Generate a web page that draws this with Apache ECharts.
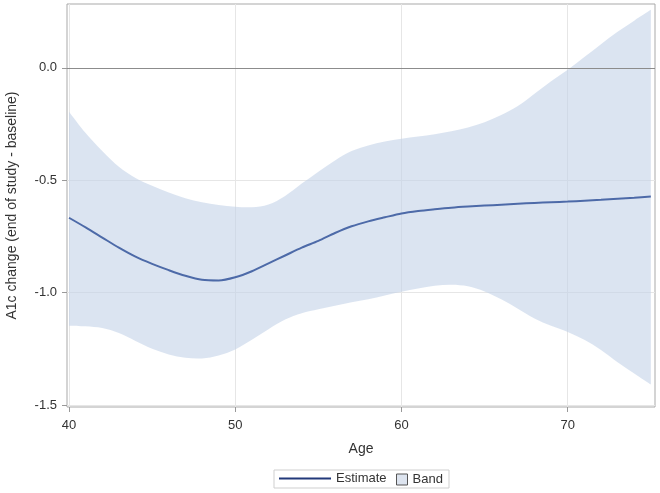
<!DOCTYPE html>
<html>
<head>
<meta charset="utf-8">
<script src="https://cdn.jsdelivr.net/npm/echarts@6/dist/echarts.min.js"></script>
<style>
  html, body { margin: 0; padding: 0; background: #fff; }
  #main { width: 660px; height: 493px; }
</style>
</head>
<body>
<div id="main"></div>
<script>
// age values (x)
var ages = [40,41,42,43,44,45,46,47,48,49,50,51,52,53,54,55,56,57,58,59,60,
  61,62,63,64,65,66,67,68,69,70,71,72,73,74,75];
// fitted estimate
var estimate = [-0.667,-0.71,-0.755,-0.80,-0.84,-0.872,-0.90,-0.925,-0.943,-0.946,
  -0.932,-0.905,-0.87,-0.835,-0.80,-0.77,-0.735,-0.705,-0.683,-0.665,
  -0.648,-0.637,-0.629,-0.622,-0.617,-0.613,-0.609,-0.605,-0.601,-0.598,
  -0.595,-0.591,-0.587,-0.582,-0.578,-0.573];
// band limits
var upper = [-0.195,-0.29,-0.37,-0.44,-0.49,-0.525,-0.555,-0.58,-0.598,-0.61,
  -0.618,-0.62,-0.608,-0.57,-0.515,-0.462,-0.412,-0.37,-0.345,-0.328,
  -0.316,-0.306,-0.295,-0.282,-0.265,-0.242,-0.21,-0.17,-0.115,-0.06,
  -0.009,0.048,0.105,0.16,0.21,0.258];
var lower = [-1.147,-1.15,-1.158,-1.18,-1.215,-1.25,-1.275,-1.29,-1.293,-1.28,
  -1.253,-1.21,-1.163,-1.12,-1.092,-1.074,-1.058,-1.043,-1.03,-1.013,
  -0.996,-0.982,-0.970,-0.965,-0.972,-0.995,-1.03,-1.072,-1.115,-1.148,
  -1.175,-1.21,-1.255,-1.31,-1.36,-1.409];
// tick labels
var xTicks = [40, 50, 60, 70];
var yTicks = [-1.5, -1.0, -0.5, 0.0];

var chart = echarts.init(document.getElementById('main'));

var bandData = ages.map(function (a, i) { return [a, lower[i], upper[i]]; });
var estData = ages.map(function (a, i) { return [a, estimate[i]]; });

var tick = { fontFamily: 'Liberation Sans, Arial, sans-serif', color: '#333', fontSize: 13 };
var title = { fontFamily: 'Liberation Sans, Arial, sans-serif', color: '#333', fontSize: 14 };

// catmull-rom through pixel points, as svg path commands
function curve(p, first) {
  var s = first ? 'M' + p[0][0] + ',' + p[0][1] : 'L' + p[0][0] + ',' + p[0][1];
  for (var i = 0; i < p.length - 1; i++) {
    var a = p[Math.max(i - 1, 0)], b = p[i], c = p[i + 1], d = p[Math.min(i + 2, p.length - 1)];
    var c1x = b[0] + (c[0] - a[0]) / 6, c1y = b[1] + (c[1] - a[1]) / 6;
    var c2x = c[0] - (d[0] - b[0]) / 6, c2y = c[1] - (d[1] - b[1]) / 6;
    s += 'C' + c1x + ',' + c1y + ',' + c2x + ',' + c2y + ',' + c[0] + ',' + c[1];
  }
  return s;
}

// whole band as one closed path: upper edge forward, lower edge back
function renderBand(params, api) {
  if (params.dataIndex !== 0) return;
  var top = [], bot = [];
  for (var i = 0; i < bandData.length; i++) {
    top.push(api.coord([bandData[i][0], bandData[i][2]]));
    bot.push(api.coord([bandData[i][0], bandData[i][1]]));
  }
  bot.reverse();
  return {
    type: 'path',
    shape: { pathData: curve(top, true) + curve(bot, false) + 'Z' },
    style: { fill: 'rgba(195,210,232,0.6)', stroke: 'none' },
    silent: true
  };
}

chart.setOption({
  animation: false,
  textStyle: { fontFamily: 'Liberation Sans, Arial, sans-serif' },
  grid: {
    left: 67, right: 5, top: 4, bottom: 86,
    outerBoundsMode: 'none',
    show: true, borderColor: '#a9a9a9', borderWidth: 1
  },
  xAxis: {
    type: 'value',
    min: 39.88, max: 75.25,
    name: 'Age',
    nameLocation: 'middle',
    nameGap: 35,
    nameTextStyle: title,
    axisLine: { show: false, onZero: false },
    axisTick: { show: true, length: 5, customValues: xTicks, lineStyle: { color: '#999' } },
    axisLabel: { customValues: xTicks, margin: 12, color: '#333', fontSize: 13 },
    splitLine: { show: true, lineStyle: { color: '#e6e6e6' } }
  },
  yAxis: {
    type: 'value',
    min: -1.509, max: 0.284,
    name: 'A1c change (end of study - baseline)',
    nameLocation: 'middle',
    nameGap: 48,
    nameTextStyle: title,
    axisLine: { show: false, onZero: false },
    axisTick: { show: true, length: 5, customValues: yTicks, lineStyle: { color: '#999' } },
    axisLabel: {
      customValues: yTicks, margin: 10, color: '#333', fontSize: 13,
      formatter: function (v) { return v.toFixed(1); }
    },
    splitLine: { show: true, lineStyle: { color: '#e6e6e6' } }
  },
  legend: [{
    data: [{ name: 'Estimate', icon: 'rect', itemStyle: { color: '#22397a' } }],
    left: 279, top: 472,
    itemWidth: 52, itemHeight: 2, itemGap: 6,
    padding: 0,
    textStyle: tick
  }, {
    data: [{ name: 'Band', icon: 'rect', itemStyle: { color: '#dde4ef', borderColor: '#555', borderWidth: 1 } }],
    left: 396, top: 473,
    itemWidth: 11, itemHeight: 11, itemGap: 5,
    padding: 0,
    textStyle: tick
  }],
  graphic: [{
    type: 'rect',
    shape: { x: 274, y: 470, width: 175, height: 18 },
    style: { fill: 'none', stroke: '#cfcfcf', lineWidth: 1 },
    silent: true
  }],
  series: [{
    name: 'Band',
    type: 'custom',
    data: bandData,
    encode: { x: 0, y: [1, 2] },
    renderItem: renderBand,
    itemStyle: { color: '#dde4ef' },
    clip: true,
    z: 1
  }, {
    name: 'Estimate',
    type: 'line',
    data: estData,
    symbol: 'none',
    smooth: 0.3,
    lineStyle: { color: '#4d6aa8', width: 2 },
    itemStyle: { color: '#4d6aa8' },
    z: 3,
    markLine: {
      silent: true,
      symbol: 'none',
      label: { show: false },
      lineStyle: { color: '#8c8c8c', type: 'solid', width: 1.2 },
      data: [{ yAxis: 0 }]
    }
  }]
});
</script>
</body>
</html>
